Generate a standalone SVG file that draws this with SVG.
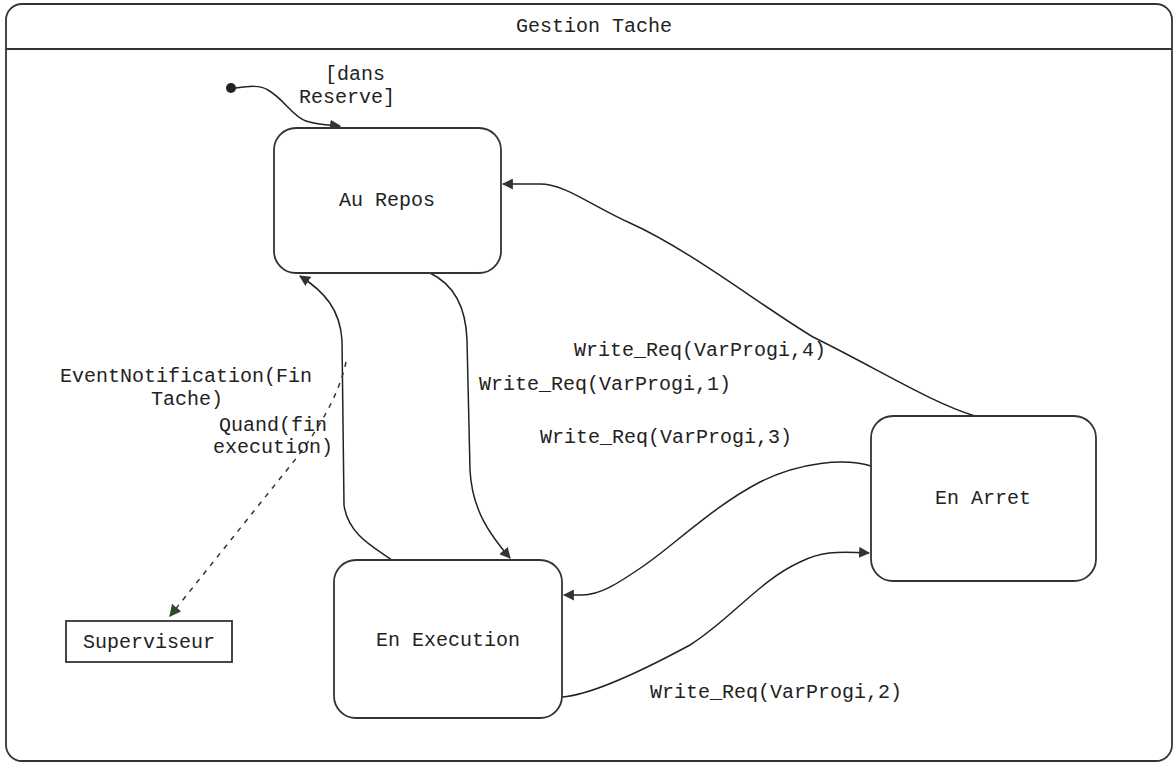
<svg xmlns="http://www.w3.org/2000/svg" width="1174" height="764" viewBox="0 0 1174 764">
<style>
.t{font-family:"Liberation Mono","DejaVu Sans Mono",monospace;font-size:20px;fill:#222;}
.st{fill:#fff;stroke:#333;stroke-width:1.8;}
.c{fill:none;stroke:#222;stroke-width:1.5;}
.d{fill:none;stroke:#333;stroke-width:1.5;stroke-dasharray:5,6;}
</style>
<defs>
<marker id="ah" viewBox="0 0 10 10" refX="9" refY="5" markerWidth="11" markerHeight="11" markerUnits="userSpaceOnUse" orient="auto">
<path d="M0,0 L10,5 L0,10 Z" fill="#333"/>
</marker>
<marker id="ahg" viewBox="0 0 10 10" refX="9" refY="5" markerWidth="12" markerHeight="12" markerUnits="userSpaceOnUse" orient="auto">
<path d="M0,0 L10,5 L0,10 Z" fill="#2f4a30"/>
</marker>
</defs>
<rect width="1174" height="764" fill="#fff"/>
<g id="frame">
<rect x="6" y="4" width="1166" height="757" rx="16" ry="16" class="st" fill="none"/>
<line x1="6" y1="49" x2="1172" y2="49" stroke="#333" stroke-width="2"/>
<text class="t" x="594" y="32" text-anchor="middle">Gestion Tache</text>
</g>
<g id="connectors">
<circle cx="231" cy="88" r="5" fill="#222"/>
<path class="c" marker-end="url(#ah)" d="M236,88 C250,86 260,85 268,90 C285,100 292,116 306,121 C318,125 328,125 340,126"/>
<path class="c" marker-end="url(#ah)" d="M430,273 C455,285 466,310 467,340 L470,470 C472,510 490,535 510,558"/>
<path class="c" marker-end="url(#ah)" d="M392,560 C375,548 348,535 344,505 L342,340 C340,310 325,292 300,276"/>
<path class="d" marker-end="url(#ahg)" d="M346,362 C338,400 312,440 282,476 L170,616"/>
<path class="c" marker-end="url(#ah)" d="M1008,416 L975,416 C930,402 880,370 813,337 C760,305 690,250 630,223 C590,205 565,184 540,184 L503,184"/>
<path class="c" marker-end="url(#ah)" d="M871,466 C845,458 800,462 760,482 C712,507 672,547 642,567 C617,584 600,595 582,595 L564,595"/>
<path class="c" marker-end="url(#ah)" d="M562,697 C590,695 640,672 690,645 C730,620 760,580 800,562 C820,552 835,551 869,553"/>
<text class="t" x="355" y="80" text-anchor="middle">[dans</text>
<text class="t" x="347" y="103" text-anchor="middle">Reserve]</text>
<text class="t" x="186" y="382" text-anchor="middle">EventNotification(Fin</text>
<text class="t" x="187" y="405" text-anchor="middle">Tache)</text>
<text class="t" x="273" y="431" text-anchor="middle">Quand(fin</text>
<text class="t" x="273" y="453" text-anchor="middle">execution)</text>
<text class="t" x="700" y="356" text-anchor="middle">Write_Req(VarProgi,4)</text>
<text class="t" x="605" y="390" text-anchor="middle">Write_Req(VarProgi,1)</text>
<text class="t" x="666" y="443" text-anchor="middle">Write_Req(VarProgi,3)</text>
<text class="t" x="776" y="698" text-anchor="middle">Write_Req(VarProgi,2)</text>
</g>
<g id="au-repos">
<rect class="st" x="274" y="128" width="227" height="145" rx="22" ry="22"/>
<text class="t" x="387" y="206" text-anchor="middle">Au Repos</text>
</g>
<g id="en-execution">
<rect class="st" x="334" y="560" width="228" height="158" rx="22" ry="22"/>
<text class="t" x="448" y="646" text-anchor="middle">En Execution</text>
</g>
<g id="en-arret">
<rect class="st" x="871" y="416" width="225" height="165" rx="22" ry="22"/>
<text class="t" x="983" y="504" text-anchor="middle">En Arret</text>
</g>
<g id="superviseur">
<rect class="st" x="66" y="621" width="166" height="41"/>
<text class="t" x="149" y="648" text-anchor="middle">Superviseur</text>
</g>
</svg>
